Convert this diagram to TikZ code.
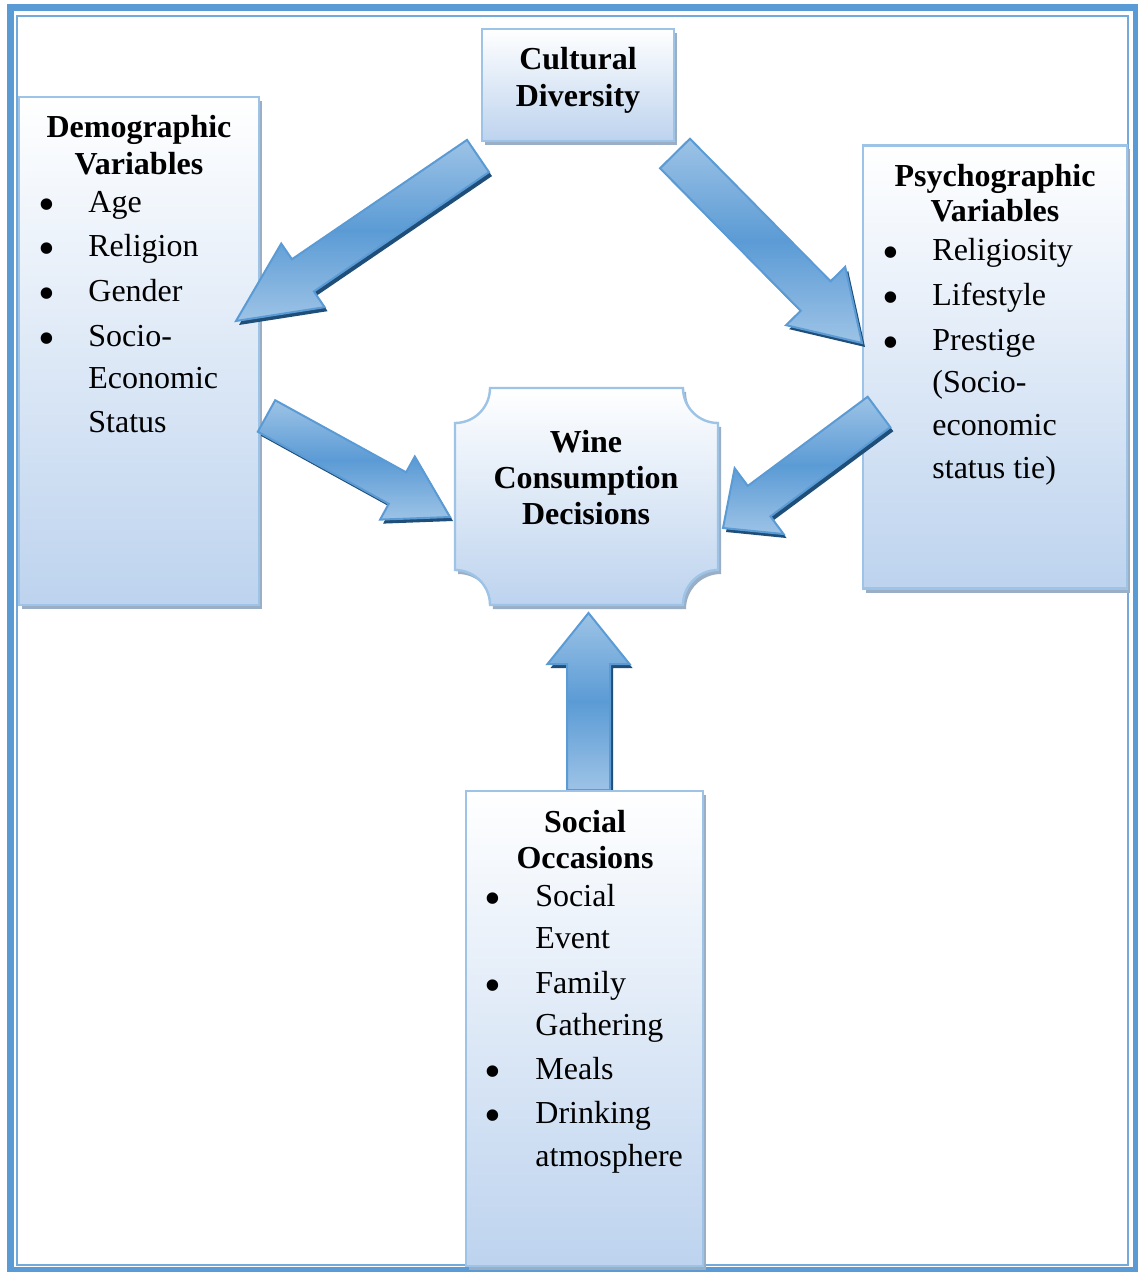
\documentclass[tikz,border=0pt]{standalone}
\usepackage{fontspec}
\setmainfont{Liberation Serif}
\usetikzlibrary{calc,shadows}
\definecolor{frameblue}{HTML}{5B9BD5}
\definecolor{boxedge}{HTML}{9DC3E6}
\definecolor{boxbot}{HTML}{BDD3EE}
\definecolor{boxshadow}{HTML}{9AAFC6}
\definecolor{arrlight}{HTML}{9DC3E6}
\definecolor{arrdark}{HTML}{5B9BD5}
\definecolor{arrshadow}{HTML}{1F4E79}
\tikzset{
  box/.style={draw=boxedge, line width=1.2pt, top color=white, bottom color=boxbot,
    inner sep=0pt, outer sep=0pt,
    general shadow={fill=boxshadow, shadow xshift=1.5pt, shadow yshift=-2pt}},
  headtxt/.style={font=\fontsize{16}{19}\selectfont\bfseries, anchor=base, inner sep=0pt},
  itemtxt/.style={font=\fontsize{16}{19}\selectfont, anchor=base west, inner sep=0pt},
  bultxt/.style={font=\fontsize{24}{26}\selectfont, anchor=base, inner sep=0pt},
  arrbody/.style={draw=arrdark, line width=1pt, line join=miter,
    top color=arrlight, bottom color=arrlight, middle color=arrdark},
  arrshad/.style={fill=arrshadow},
}
% #1 tail coordinate, #2 tip coordinate, #3 shaft half width, #4 head half width, #5 head length
\newcommand\blockarrow[5]{%
  \coordinate (#1b) at ($(#2)!#5!(#1)$);
  \fill[arrshad]
    ($(#1)!#3!90:(#2)+(3,4)$) -- ($(#1b)!#3!90:(#2)+(3,4)$) --
    ($(#1b)!#4!90:(#2)+(3,4)$) -- ($(#2)+(3,4)$) --
    ($(#1b)!#4!-90:(#2)+(3,4)$) -- ($(#1b)!#3!-90:(#2)+(3,4)$) --
    ($(#1)!#3!-90:(#2)+(3,4)$) -- cycle;
  \path[arrbody]
    ($(#1)!#3!90:(#2)$) -- ($(#1b)!#3!90:(#2)$) --
    ($(#1b)!#4!90:(#2)$) -- (#2) --
    ($(#1b)!#4!-90:(#2)$) -- ($(#1b)!#3!-90:(#2)$) --
    ($(#1)!#3!-90:(#2)$) -- cycle;
}
\begin{document}
\begin{tikzpicture}[x=0.5pt,y=-0.5pt]
\useasboundingbox (0,0) rectangle (1138,1272);
\fill[white] (0,0) rectangle (1138,1272);
% frame
\draw[frameblue, line width=3.5pt] (10,8) rectangle (1136,1270);
\draw[frameblue!85, line width=1pt] (17,16) rectangle (1128,1265);

% boxes
\node[box, minimum width=120pt, minimum height=254pt] (demo) at (139,351) {};
\node[box, minimum width=96pt, minimum height=56pt] (cult) at (578,85) {};
\node[box, minimum width=132pt, minimum height=221.5pt] (psych) at (995,367) {};

% wine plaque
\begin{scope}[shift={(3,4)}]
\fill[boxshadow] (455,423) arc[start angle=90,end angle=0,radius=35] -- (683,388)
  arc[start angle=180,end angle=90,radius=35] -- (718,570)
  arc[start angle=270,end angle=180,radius=35] -- (490,605)
  arc[start angle=0,end angle=-90,radius=35] -- cycle;
\end{scope}
\path[draw=boxedge, line width=1.2pt, top color=white, bottom color=boxbot]
  (455,423) arc[start angle=90,end angle=0,radius=35] -- (683,388)
  arc[start angle=180,end angle=90,radius=35] -- (718,570)
  arc[start angle=270,end angle=180,radius=35] -- (490,605)
  arc[start angle=0,end angle=-90,radius=35] -- cycle;
\coordinate (wine) at (586,496);

% arrows
\coordinate (a1) at (478,156);   \coordinate (a1tip) at (236,321);
\coordinate (a2) at (675,153.5); \coordinate (a2tip) at (862,343);
\coordinate (a3) at (266.5,416); \coordinate (a3tip) at (450,517);
\coordinate (a4) at (879,412);   \coordinate (a4tip) at (723,528);
\coordinate (a5) at (588.5,790); \coordinate (a5tip) at (588.5,613);
\blockarrow{a1}{a1tip}{9.75pt}{19.25pt}{40.5pt}
\blockarrow{a2}{a2tip}{10.5pt}{20.75pt}{33pt}
\blockarrow{a3}{a3tip}{9pt}{18pt}{30pt}
\blockarrow{a4}{a4tip}{9.5pt}{20.5pt}{22.5pt}
\blockarrow{a5}{a5tip}{10.75pt}{20.5pt}{25.5pt}

\node[box, minimum width=118.5pt, minimum height=237.5pt] (social) at (584.5,1028.5) {};

% texts
\node[headtxt] (cultA) at (578,70) {Cultural};
\node[headtxt] (cultB) at (578,107) {Diversity};

\node[headtxt] (demoA) at (139,138) {Demographic};
\node[headtxt] (demoB) at (139,175) {Variables};
\foreach \t/\yy/\b [count=\i] in {{Age}/213/1, {Religion}/257/1, {Gender}/302/1, {Socio-}/347/1, {Economic}/389/0, {Status}/432/0}{
  \node[itemtxt] (demoi\i) at (88,\yy) {\t};
  \ifnum\b=1 \node[bultxt] (demob\i) at (47,\yy+8) {\textbullet}; \fi
}

\node[headtxt] (psychA) at (995,187) {Psychographic};
\node[headtxt] (psychB) at (995,222) {Variables};
\foreach \t/\yy/\b [count=\i] in {{Religiosity}/261/1, {Lifestyle}/306/1, {Prestige}/351/1, {(Socio-}/393/0, {economic}/436/0, {status tie)}/478/0}{
  \node[itemtxt] (psychi\i) at (932,\yy) {\t};
  \ifnum\b=1 \node[bultxt] (psychb\i) at (891,\yy+8) {\textbullet}; \fi
}

\node[headtxt] (wineA) at (586,452) {Wine};
\node[headtxt] (wineB) at (586,488) {Consumption};
\node[headtxt] (wineC) at (586,524) {Decisions};

\node[headtxt] (socA) at (585,832) {Social};
\node[headtxt] (socB) at (585,868) {Occasions};
\foreach \t/\yy/\b [count=\i] in {{Social}/906/1, {Event}/948/0, {Family}/993/1, {Gathering}/1035/0, {Meals}/1079/1, {Drinking}/1123/1, {atmosphere}/1166/0}{
  \node[itemtxt] (soci\i) at (535,\yy) {\t};
  \ifnum\b=1 \node[bultxt] (socb\i) at (493,\yy+8) {\textbullet}; \fi
}
\end{tikzpicture}
\end{document}
